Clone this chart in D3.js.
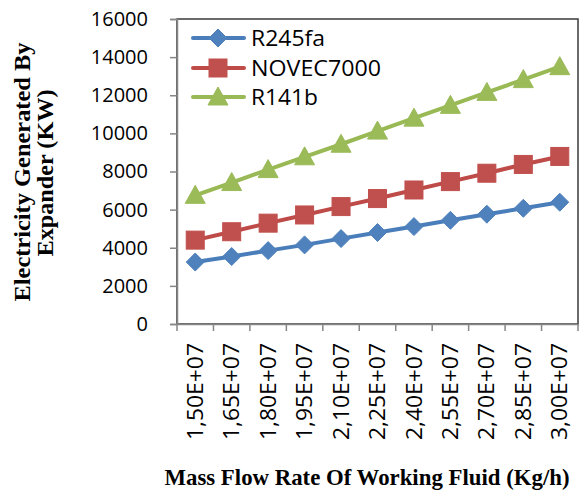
<!DOCTYPE html>
<html><head><meta charset="utf-8">
<script src="https://cdn.jsdelivr.net/npm/d3@7"></script>
<style>body{margin:0;background:#fff}svg{display:block}</style>
</head><body>
<script>
const categories = ["1,50E+07","1,65E+07","1,80E+07","1,95E+07","2,10E+07","2,25E+07","2,40E+07","2,55E+07","2,70E+07","2,85E+07","3,00E+07"];
const r245fa   = [3250, 3540, 3850, 4150, 4480, 4800, 5110, 5440, 5760, 6070, 6390];
const novec7000 = [4400, 4840, 5290, 5720, 6160, 6580, 7030, 7470, 7910, 8370, 8790];
const r141b    = [6750, 7420, 8100, 8770, 9430, 10120, 10800, 11470, 12150, 12820, 13500];
const yTicks = [0,2000,4000,6000,8000,10000,12000,14000,16000];
const seriesNames = ["R245fa","NOVEC7000","R141b"];

const W = 579, H = 492;
const L = 177, R = 578, T = 19, B = 324;
const svg = d3.select("body").append("svg").attr("width", W).attr("height", H);

const x = d3.scaleBand().domain(categories).range([L, R]).paddingInner(0).paddingOuter(0);
const y = d3.scaleLinear().domain([0, 16000]).range([B, T]);

const series = [
  {name: seriesNames[0], values: r245fa, line: "#4A7EBB", fill: "#4F81BD", shape: "diamond", len: 74},
  {name: seriesNames[1], values: novec7000, line: "#BE4B48", fill: "#C0504D", shape: "square", len: 130},
  {name: seriesNames[2], values: r141b, line: "#98B954", fill: "#9BBB59", shape: "triangle", len: 67}
];

// plot border
svg.append("rect").attr("x", L).attr("y", T).attr("width", R - L).attr("height", B - T)
  .attr("fill", "none").attr("stroke", "#3a3a3a").attr("stroke-width", 1.5);

// y axis
const yAxis = svg.append("g").attr("transform", `translate(${L},0)`)
  .call(d3.axisLeft(y).tickValues(yTicks).tickSize(7).tickPadding(22).tickFormat(d3.format("d")));
yAxis.select(".domain").attr("stroke", "#868686").attr("stroke-width", 1.5);
yAxis.selectAll(".tick line").attr("stroke", "#868686").attr("stroke-width", 1.5);
yAxis.selectAll("text").attr("font-family", "Open Sans").attr("font-size", 20).attr("fill", "#000");

// x axis
const xAxis = svg.append("g").attr("transform", `translate(0,${B})`)
  .call(d3.axisBottom(x).tickSize(0).tickPadding(0));
xAxis.select(".domain").attr("stroke", "#868686").attr("stroke-width", 1.5);
xAxis.selectAll(".tick text")
  .attr("font-family", "Open Sans").attr("font-size", 21).attr("fill", "#000")
  .attr("text-anchor", "end")
  .attr("textLength", 97).attr("lengthAdjust", "spacingAndGlyphs")
  .attr("transform", "translate(0,19) rotate(-90)")
  .attr("x", 0).attr("y", 0).attr("dy", "0.36em");
const boundaries = categories.map(c => x(c)).concat([x.range()[1]]);
xAxis.selectAll(".btick").data(boundaries).join("line").attr("class", "btick")
  .attr("x1", d => d).attr("x2", d => d).attr("y1", 0).attr("y2", 7)
  .attr("stroke", "#868686").attr("stroke-width", 1.5);

// symbols
function marker(g, shape, fill) {
  if (shape === "diamond") {
    g.append("path").attr("d", "M0,-9L9,0L0,9L-9,0Z").attr("fill", fill).attr("stroke", fill);
  } else if (shape === "square") {
    g.append("rect").attr("x", -9).attr("y", -9).attr("width", 18).attr("height", 18).attr("fill", fill).attr("stroke", fill);
  } else {
    g.append("path").attr("d", "M0,-10L10,8L-10,8Z").attr("fill", fill).attr("stroke", fill);
  }
}

const line = d3.line().x((d, i) => x(categories[i]) + x.bandwidth() / 2).y(d => y(d));
series.forEach(s => {
  svg.append("path").datum(s.values).attr("d", line).attr("fill", "none")
    .attr("stroke", s.line).attr("stroke-width", 4).attr("stroke-linejoin", "round").attr("stroke-linecap", "round");
  s.values.forEach((v, i) => {
    const g = svg.append("g").attr("transform", `translate(${x(categories[i]) + x.bandwidth() / 2},${y(v)})`);
    marker(g, s.shape, s.fill);
  });
});

// legend
const legY = [38, 68, 97];
series.forEach((s, i) => {
  const g = svg.append("g").attr("transform", `translate(0,${legY[i]})`);
  g.append("line").attr("x1", 193).attr("x2", 244).attr("y1", 0).attr("y2", 0)
    .attr("stroke", s.line).attr("stroke-width", 4).attr("stroke-linecap", "round");
  const m = g.append("g").attr("transform", "translate(218,0)");
  marker(m, s.shape, s.fill);
  g.append("text").attr("x", 251).attr("y", 0).attr("dy", "0.36em")
    .attr("font-family", "Open Sans").attr("font-size", 21).attr("fill", "#000")
    .attr("textLength", s.len).attr("lengthAdjust", "spacingAndGlyphs").text(s.name);
});

// y title
const yt = svg.append("g").attr("font-family", "Liberation Serif").attr("font-weight", "bold").attr("font-size", 24).attr("text-anchor", "middle");
yt.append("text").attr("transform", "translate(30,172) rotate(-90)")
  .attr("textLength", 259).attr("lengthAdjust", "spacingAndGlyphs").text("Electricity Generated By");
yt.append("text").attr("transform", "translate(53,173) rotate(-90)")
  .attr("textLength", 167).attr("lengthAdjust", "spacingAndGlyphs").text("Expander (KW)");

// x title
svg.append("text").attr("x", 367).attr("y", 485).attr("text-anchor", "middle")
  .attr("font-family", "Liberation Serif").attr("font-weight", "bold").attr("font-size", 23)
  .attr("textLength", 405).attr("lengthAdjust", "spacingAndGlyphs")
  .text("Mass Flow Rate Of Working Fluid (Kg/h)");
</script>
</body></html>
